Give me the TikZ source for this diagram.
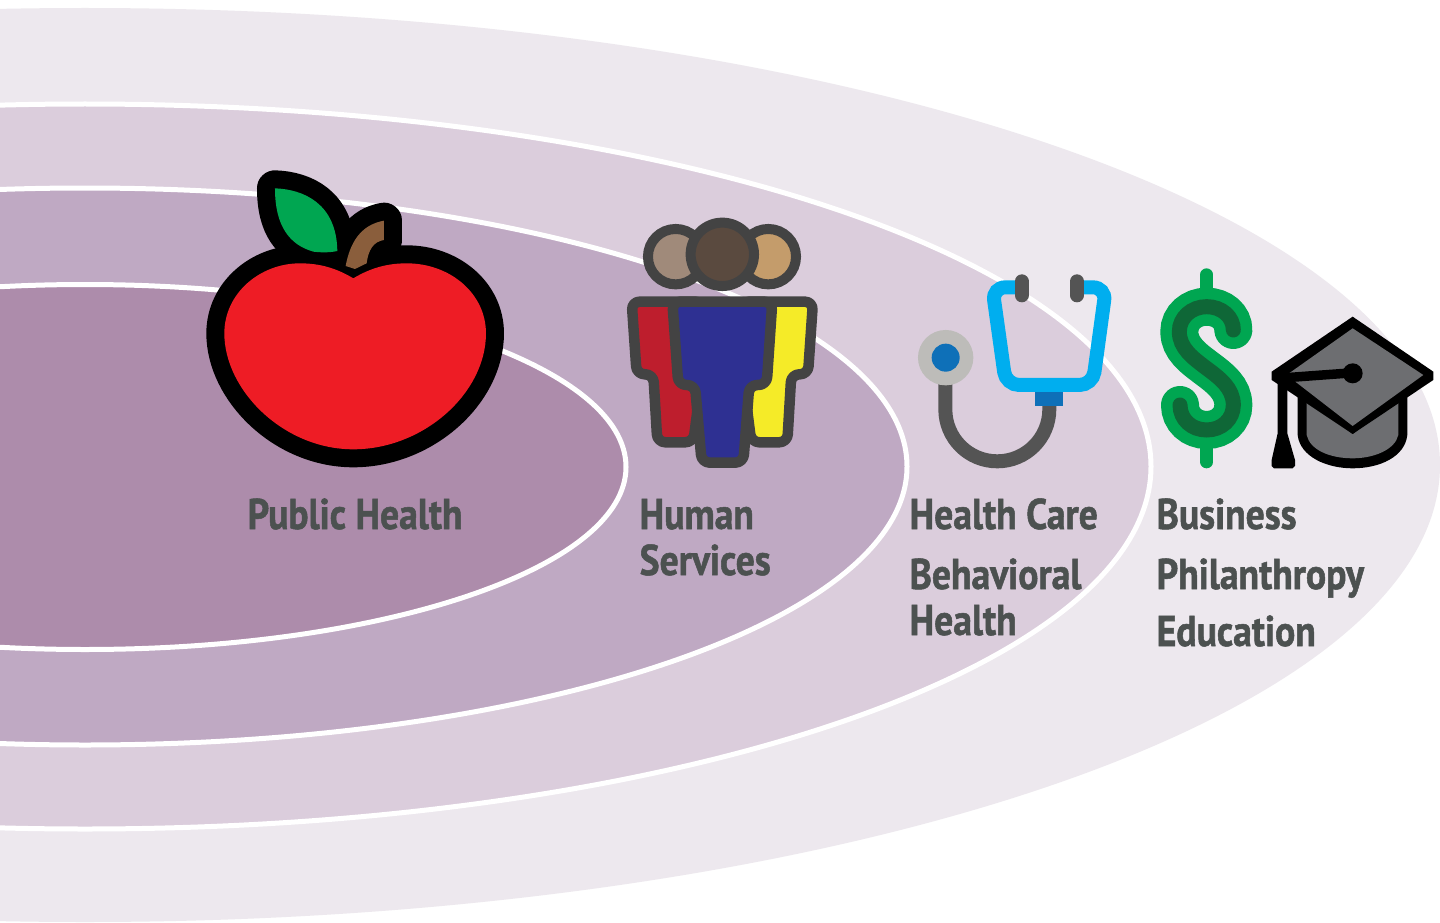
\documentclass[tikz,border=0pt]{standalone}
\usepackage{fontspec}
\setmainfont{PT Sans}[BoldFont={PT Sans Bold},FakeStretch=0.875,BoldFeatures={FakeBold=1.2}]
\definecolor{ringA}{HTML}{EDE8EE}
\definecolor{ringB}{HTML}{DBCDDC}
\definecolor{ringC}{HTML}{BFA9C3}
\definecolor{ringD}{HTML}{AD8CAB}
\definecolor{lab}{HTML}{4C5150}
\definecolor{appleRed}{HTML}{EE1C25}
\definecolor{leafGreen}{HTML}{00A651}
\definecolor{stemBrown}{HTML}{8A5E3C}
\definecolor{pplGray}{HTML}{434343}
\definecolor{headA}{HTML}{A08A7A}
\definecolor{headB}{HTML}{5A4A3F}
\definecolor{headC}{HTML}{C49C6B}
\definecolor{bodyR}{HTML}{BE1E2D}
\definecolor{bodyB}{HTML}{2E3092}
\definecolor{bodyY}{HTML}{F5EB28}
\definecolor{tubeGray}{HTML}{545454}
\definecolor{scopeCyan}{HTML}{00AEEF}
\definecolor{scopeBlue}{HTML}{0E70B8}
\definecolor{discGray}{HTML}{BDBCB9}
\definecolor{darkGreen}{HTML}{0F6737}
\definecolor{capGray}{HTML}{6D6E71}
\tikzset{
  ring/.style={draw=white,line width=5pt},
  lbl/.style={anchor=base west,inner sep=0pt,text=lab,font=\fontsize{43}{46}\selectfont\bfseries},
  outl/.style={line width=36pt,draw=black,line join=round},
  person/.style={draw=pplGray,line width=10.5pt,rounded corners=8pt,line join=round},
  head/.style={draw=pplGray,line width=10pt},
}
\begin{document}
\begin{tikzpicture}[x=1pt,y=-1pt]
\useasboundingbox (0,0) rectangle (1440,923);
\fill[white] (0,0) rectangle (1440,923);
\clip (0,0) rectangle (1440,923);
% rings
\fill[ringA] (85,465) ellipse [x radius=1355pt,y radius=457pt];
\path[ring,fill=ringB] (85,466.5) ellipse [x radius=1066pt,y radius=362.5pt];
\path[ring,fill=ringC] (85,466.5) ellipse [x radius=822pt,y radius=278.5pt];
\path[ring,fill=ringD] (85,467) ellipse [x radius=541pt,y radius=182.5pt];
% apple
\begin{scope}[shift={(190,160)},x=0.3333pt,y=-0.3333pt]
\def\leafpath{(255,85) .. controls (340,88) and (440,130) .. (442,273) .. controls (420,278) and (395,278) .. (370,275) .. controls (300,255) and (255,200) .. (255,85) -- cycle}
\def\stempath{(467,318) .. controls (480,250) and (510,195) .. (582,182) -- (582,240) .. controls (550,245) and (535,270) .. (530,310) -- (495,327) -- cycle}
\def\applepath{(490,355) .. controls (540,325) and (590,310) .. (650,310) .. controls (780,310) and (888,400) .. (888,520) .. controls (888,700) and (700,868) .. (490,868) .. controls (280,868) and (103,690) .. (103,520) .. controls (103,400) and (210,310) .. (330,310) .. controls (390,310) and (440,325) .. (490,355) -- cycle}
\draw[outl] \leafpath;
\draw[outl] \stempath;
\draw[outl] \applepath;
\fill[appleRed] \applepath;
\fill[leafGreen] \leafpath;
\fill[stemBrown] \stempath;
\end{scope}
% people
\begin{scope}[shift={(610,205)},x=0.3333pt,y=-0.3333pt]
\path[person,fill=bodyR] (65,290) -- (80,508) -- (130,508) -- (142,712) -- (250,712) -- (290,400) -- (280,290) -- cycle;
\path[person,fill=bodyY] (609,290) -- (594,508) -- (544,508) -- (532,712) -- (424,712) -- (384,400) -- (394,290) -- cycle;
\path[person,fill=bodyB] (187,290) -- (487,290) -- (470,540) -- (418,540) -- (400,773) -- (275,773) -- (255,540) -- (205,540) -- cycle;
\path[head,fill=headA] (197,155) circle [radius=27.7pt];
\path[head,fill=headC] (475,155) circle [radius=27.7pt];
\path[head,fill=headB] (337,148) circle [radius=31.7pt];
\end{scope}
% stethoscope
\begin{scope}[shift={(905,265)},x=0.3333pt,y=-0.3333pt]
\draw[tubeGray,line width=14pt] (121,340) -- (121,433) .. controls (121,519) and (190,589) .. (277,589) .. controls (363,589) and (433,519) .. (433,433) -- (433,400);
\fill[discGray] (122,278) circle [radius=27.7pt];
\fill[scopeBlue] (122,278) circle [radius=14pt];
\draw[scopeCyan,line width=14pt,rounded corners=13pt] (335,67) -- (262,67) -- (303,360) -- (563,360) -- (603,67) -- (530,67);
\fill[scopeBlue] (390,380) rectangle (473,422);
\draw[tubeGray,line width=14pt,line cap=round] (350,49) -- (350,91);
\draw[tubeGray,line width=14pt,line cap=round] (516,49) -- (516,91);
\end{scope}
% dollar and cap
\begin{scope}[shift={(1150,260)},x=0.3333pt,y=-0.3333pt]
\draw[leafGreen,line width=12.7pt,line cap=round] (170,44) -- (170,100);
\draw[leafGreen,line width=12.7pt,line cap=round] (170,550) -- (170,606);
\def\spath{(250,210) .. controls (250,170) and (215,140) .. (170,140) .. controls (125,140) and (88,172) .. (88,215) .. controls (88,265) and (130,295) .. (170,325) .. controls (210,355) and (250,385) .. (250,435) .. controls (250,478) and (215,510) .. (170,510) .. controls (125,510) and (90,478) .. (90,435)}
\draw[leafGreen,line width=38pt,line cap=round] \spath;
\draw[darkGreen,line width=15pt,line cap=round] \spath;
% cap
\fill[black] (443,400) -- (443,525) .. controls (450,590) and (530,625) .. (608,625) .. controls (690,625) and (765,590) .. (772,525) -- (772,400) -- cycle;
\fill[capGray] (470,420) -- (608,522) -- (745,420) -- (745,525) .. controls (735,570) and (670,595) .. (608,595) .. controls (540,595) and (480,570) .. (470,525) -- cycle;
\fill[black] (608,170) -- (850,335) -- (850,360) -- (608,522) -- (365,360) -- (365,335) -- cycle;
\fill[capGray] (608,205) -- (820,345) -- (608,498) -- (410,345) -- cycle;
\draw[black,line width=9.5pt] (395,354) -- (600,339);
\fill[black] (608,340) circle [radius=10pt];
\fill[black] (383,350) -- (412,350) -- (412,520) -- (435,600) -- (435,618) -- (428,625) -- (372,625) -- (365,618) -- (365,600) -- (383,520) -- cycle;
\end{scope}
% labels
\node[lbl] (ph) at (247.5,529) {Public Health};
\node[lbl] (hs1) at (639.5,529) {Human};
\node[lbl] (hs2) at (639.5,575) {Services};
\node[lbl] (hc) at (909.5,529) {Health Care};
\node[lbl] (bh1) at (909.5,589) {Behavioral};
\node[lbl] (bh2) at (909.5,635) {Health};
\node[lbl] (bu) at (1156.5,529) {Business};
\node[lbl] (ph2) at (1156.5,589) {Philanthropy};
\node[lbl] (ed) at (1156.5,646) {Education};
\end{tikzpicture}
\end{document}
